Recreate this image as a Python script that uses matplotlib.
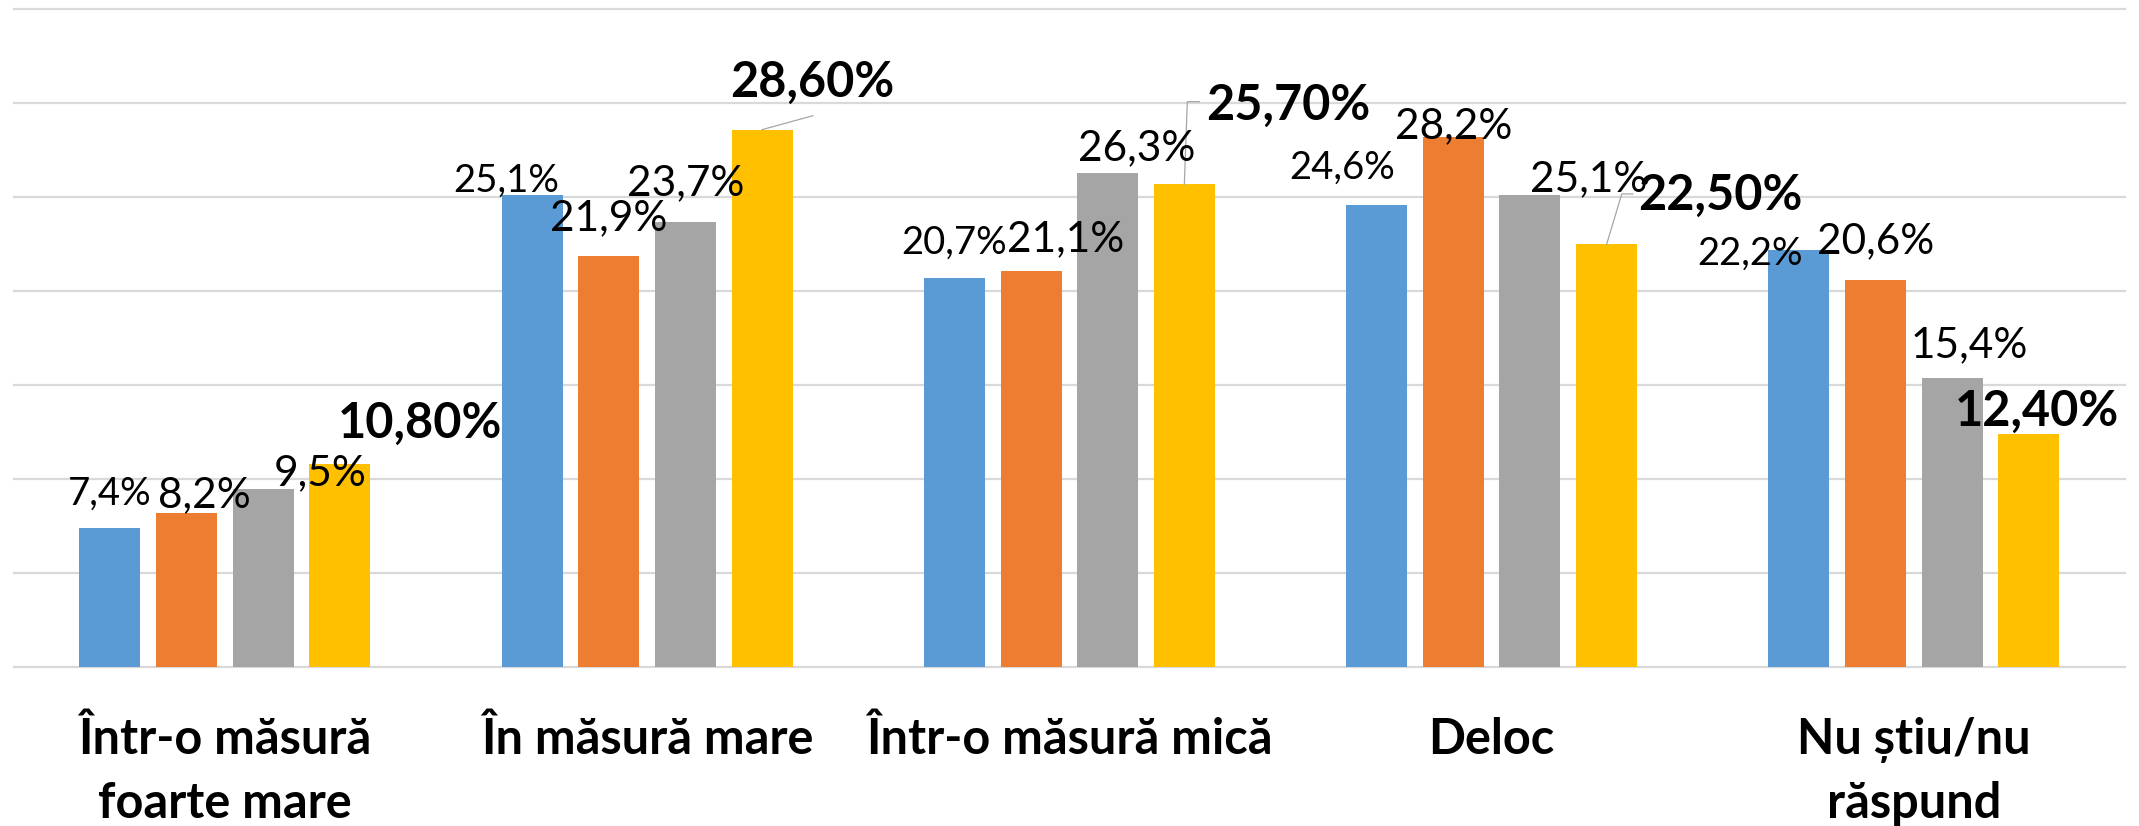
#!/usr/bin/env python
# grouped bar chart, 4 series x 5 answer categories, Excel-like styling
import matplotlib
matplotlib.use('Agg')
import matplotlib.pyplot as plt
import numpy as np

plt.rcParams['font.family'] = ['Lato', 'DejaVu Sans']

categories = ['Într-o măsură\nfoarte mare', 'În măsură mare', 'Într-o măsură mică',
              'Deloc', 'Nu știu/nu\nrăspund']

wave1 = [7.4, 25.1, 20.7, 24.6, 22.2]
wave2 = [8.2, 21.9, 21.1, 28.2, 20.6]
wave3 = [9.5, 23.7, 26.3, 25.1, 15.4]
wave4 = [10.8, 28.6, 25.7, 22.5, 12.4]

colors = ['#5B9BD5', '#ED7D31', '#A5A5A5', '#FFC000']

# label placement (dx in category units, dy in % from bar top, baseline)
label_dx = [[0, -0.062, 0, -0.083, -0.116],
            [0.042, 0, 0.083, 0, 0],
            [0.135, 0, 0.069, 0.138, 0.041],
            [0.189, 0.119, 0.245, 0.270, 0.020]]
label_dy = [[1.23, 0.20, 1.32, 1.41, -0.80],
            [0.34, 1.36, 1.06, -0.06, 1.42],
            [0.20, 1.42, 0.68, 0.20, 1.12],
            [1.43, 1.75, 3.41, 1.82, 0.44]]
label_size = [27.5, 30.5, 30.5, 35]

# leader lines for the last series: list of (dx, dy) points after the bar top
leaders = {1: [(0.12, 0.74)],
           2: [(0.007, 4.39), (0.0355, 4.39)],
           3: [(0.036, 2.68), (0.062, 2.68)]}

series = [wave1, wave2, wave3, wave4]
x = np.arange(len(categories))
step = 0.1815
width = 0.1445

fig = plt.figure(figsize=(21.39, 8.26), dpi=100)
ax = fig.add_axes([0.00645, 0.1921, 0.987, 0.7966])

for j, vals in enumerate(series):
    pos = x + (j - 1.5) * step
    ax.bar(pos, vals, width, color=colors[j], zorder=2)
    for i, v in enumerate(vals):
        if j == 3:
            txt = ('%.2f' % v).replace('.', ',') + '%'
            weight = 'bold'
        else:
            txt = ('%.1f' % v).replace('.', ',') + '%'
            weight = 'normal'
        ax.text(pos[i] + label_dx[j][i], v + label_dy[j][i], txt,
                ha='center', va='baseline', fontsize=label_size[j],
                fontweight=weight, color='black', zorder=4)
        if j == 3 and i in leaders:
            xs = [pos[i]] + [pos[i] + p[0] for p in leaders[i]]
            ys = [v] + [v + p[1] for p in leaders[i]]
            ax.plot(xs, ys, color='#A6A6A6', lw=0.9, zorder=3)

ax.set_xlim(-0.5, 4.5)
ax.set_ylim(0, 35)
ax.set_yticks(np.arange(0, 36, 5))
ax.yaxis.grid(True, color='#D9D9D9', lw=1.6)
for gl in ax.get_ygridlines():
    gl.set_clip_on(False)
ax.set_axisbelow(True)
ax.set_yticklabels([])
ax.tick_params(axis='y', length=0)

ax.set_xticks(x)
ax.set_xticklabels(categories, fontsize=35, fontweight='bold', va='top',
                   linespacing=1.5)
ax.tick_params(axis='x', length=0, pad=35.5)

for s in ax.spines.values():
    s.set_visible(False)

plt.savefig('out.png', dpi=100)
